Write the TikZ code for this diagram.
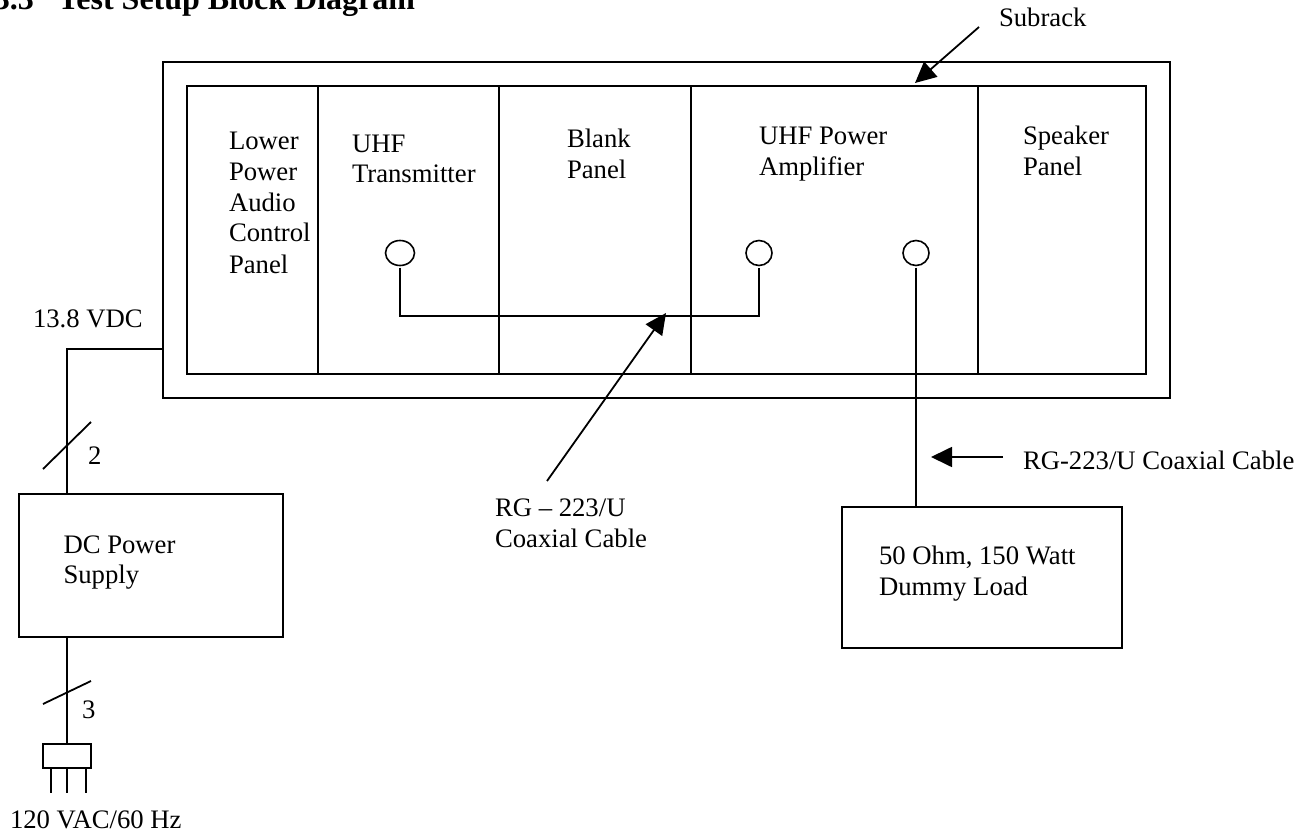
\documentclass[tikz,border=0pt]{standalone}
\usepackage{fontspec}
\setmainfont{Liberation Serif}
\usetikzlibrary{arrows.meta,shapes.geometric}
\tikzset{
  wire/.style={line width=1.8pt},
  callout/.style={line width=1.8pt, -{Triangle[length=21pt,width=20pt]}},
  blockbox/.style={draw, line width=1.8pt, inner sep=0pt, outer sep=0pt},
  port/.style={draw, ellipse, line width=1.6pt, minimum height=25pt, inner sep=0pt, outer sep=0pt},
  label/.style={anchor=base west, inner sep=0pt, outer sep=0pt, align=left, font=\fontsize{26.7pt}{30.8pt}\selectfont}
}

\begin{document}
\begin{tikzpicture}[x=1pt,y=-1pt]
\useasboundingbox (0,0) rectangle (1305,834);

% Title
\node[label, font=\fontsize{32pt}{36pt}\selectfont\bfseries] (title) at (-6,10) {3.3\hspace{0.75em}Test Setup Block Diagram};

% Subrack and panels
\node[blockbox, line width=2.3pt, minimum width=1007pt, minimum height=336pt] (subrack) at (666.5,230) {};
\foreach \name/\x/\w in {lowerpanel/252.5/131, xmtrpanel/408.5/181, blankpanel/595/192, amppanel/834.5/287, speakerpanel/1062/168} {
  \node[blockbox, minimum width=\w pt, minimum height=288pt] (\name) at (\x,230) {};
}
\draw[blockbox, line width=2.3pt] (lowerpanel.north west) rectangle (speakerpanel.south east);

% Panel labels
\node[label] (lowertext) at (229,150) {Lower};
\node[label] (powertext) at (229,181) {Power};
\node[label] (audiotext) at (229,212) {Audio};
\node[label] (controltext) at (229,242) {Control};
\node[label] (paneltext) at (229,273) {Panel};
\node[label] (uhftext) at (352,153) {UHF};
\node[label] (xmtrtext) at (352,183) {Transmitter};
\node[label] (blanktext) at (567,148) {Blank};
\node[label] (blankpaneltext) at (567,179) {Panel};
\node[label] (amptext) at (759,145) {UHF Power};
\node[label] (amptexttwo) at (759,176) {Amplifier};
\node[label] (speakertext) at (1023,145) {Speaker};
\node[label] (speakerpaneltext) at (1023,176) {Panel};

% Ports and cable
\node[port, minimum width=29pt] (xmtrport) at (400,253) {};
\node[port, minimum width=26pt] (ampinport) at (759,253) {};
\node[port, minimum width=26pt] (ampoutport) at (916,253) {};
\coordinate (cablerun) at (580,316);
\draw[wire, shorten <=2pt, shorten >=2pt] (xmtrport.south) |- (cablerun) -| (ampinport.south);

% Power supply side
\coordinate (dcentry) at (163,349);
\node[blockbox, minimum width=264pt, minimum height=143pt] (supply) at (151,565.5) {};
\coordinate (dcdrop) at (67,494);
\draw[wire] (dcentry) -| (dcdrop);
\node[label] (vdctext) at (33,327) {13.8 VDC};
\node[label] (supplytext) at (63.5,553) {DC Power};
\node[label] (supplytexttwo) at (63.5,583) {Supply};
\coordinate (slasha) at (43,469);
\coordinate (slashb) at (91,422);
\draw[wire] (slasha) -- (slashb);
\node[label] (twotext) at (88,464) {2};

% Mains plug
\node[blockbox, minimum width=48pt, minimum height=24pt] (plug) at (67,756) {};
\draw[wire] (supply.south -| plug.north) -- (plug.north);
\coordinate (slashc) at (43,704);
\coordinate (slashd) at (91,681);
\draw[wire] (slashc) -- (slashd);
\node[label] (threetext) at (82,718) {3};
\foreach \name/\x in {prongleft/51, prongmid/67, prongright/86} {
  \coordinate (\name) at (\x,793);
  \draw[wire] (\x,767) -- (\name);
}
\node[label] (mainstext) at (10,828) {120 VAC/60 Hz};

% Dummy load
\node[blockbox, minimum width=280pt, minimum height=141pt] (dummyload) at (982,577.5) {};
\draw[wire, shorten <=2pt] (ampoutport.south) -- (ampoutport.south |- dummyload.north);
\node[label] (loadtext) at (879,564) {50 Ohm, 150 Watt};
\node[label] (loadtexttwo) at (879,595) {Dummy Load};

% Callouts
\node[label] (subracktext) at (999,27) {Subrack};
\coordinate (subrackfrom) at (979,27);
\coordinate (subracktip) at (915,83);
\draw[callout] (subrackfrom) -- (subracktip);
\node[label] (cabletext) at (495,516) {RG -- 223/U};
\node[label] (cabletexttwo) at (495,547) {Coaxial Cable};
\coordinate (cablefrom) at (547,481);
\coordinate (cabletip) at (666,313);
\draw[callout] (cablefrom) -- (cabletip);
\node[label] (rgtext) at (1023,469) {RG-223/U Coaxial Cable};
\coordinate (rgfrom) at (1003,457);
\coordinate (rgtip) at (931,457);
\draw[callout] (rgfrom) -- (rgtip);
\end{tikzpicture}
\end{document}
